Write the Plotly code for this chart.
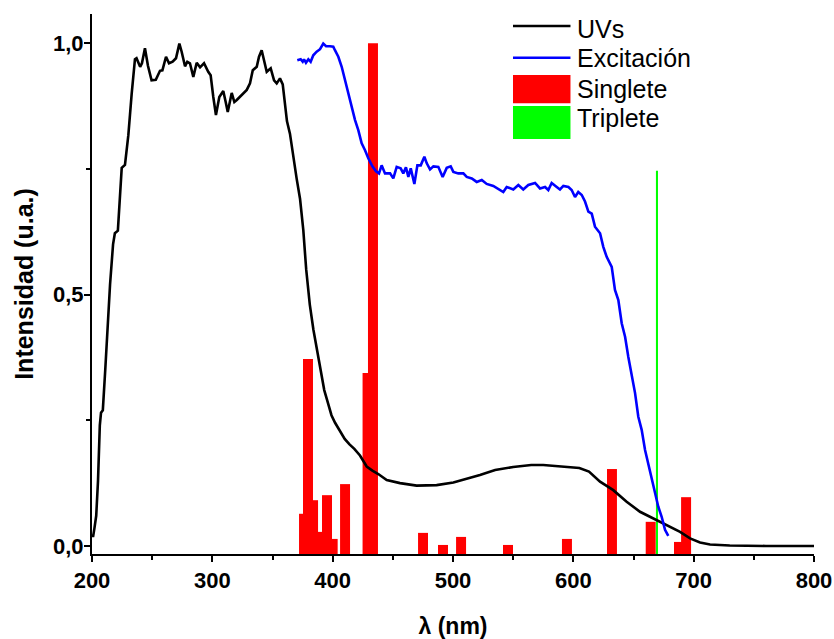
import plotly.graph_objects as go

# ---------------- data ----------------
uv_wl = [200, 201, 202, 203.5, 205, 206.5, 207.5, 209, 211, 213, 215, 217.5, 219, 221.5, 223,
         224.7, 227.4, 230.2, 233, 235.7, 237, 238.5, 240, 241.5, 244, 246.5, 249.5, 253, 256.5,
         258.5, 261.5, 264, 267, 269.8, 272.6, 274.5, 277.3, 279.2, 281.4, 284.2, 287, 289.8,
         293.1, 296.6, 298.6, 300.8, 303, 305.8, 309.1, 311.1, 312.8, 316.1, 318.3, 320.3, 324.4,
         328.6, 331.3, 333.6, 336.9, 338.8, 341, 342.9, 345.2, 348.5, 351.3, 353.5, 356.2, 358.5,
         360.4, 362, 364.5, 367.3, 370.1, 372.9, 375.6, 378, 381, 384, 387, 390, 393, 396, 399,
         402, 406, 410, 414, 418, 422.7, 428.3, 433, 437.9, 444.9, 456, 469.8, 486.4, 500.3,
         514.1, 522.4, 535, 550, 565, 575, 590, 605, 613, 622.2, 633.2, 644.3, 655.4, 666.5,
         677.6, 688.7, 697, 705.3, 713.6, 730, 760, 800]
uv_int = [0.02, 0.02, 0.035, 0.06, 0.13, 0.24, 0.265, 0.27, 0.35, 0.44, 0.52, 0.6, 0.622, 0.627, 0.68,
          0.752, 0.758, 0.817, 0.90, 0.968, 0.97, 0.96, 0.953, 0.96, 0.99, 0.955, 0.926, 0.927, 0.945,
          0.946, 0.973, 0.96, 0.963, 0.97, 0.999, 0.983, 0.954, 0.963, 0.96, 0.933, 0.961, 0.952,
          0.96, 0.943, 0.936, 0.893, 0.857, 0.893, 0.905, 0.883, 0.863, 0.901, 0.883, 0.887, 0.897,
          0.907, 0.92, 0.946, 0.953, 0.973, 0.986, 0.966, 0.943, 0.95, 0.926, 0.92, 0.93, 0.918,
          0.88, 0.845, 0.82, 0.77, 0.73, 0.69, 0.628, 0.55, 0.48, 0.43, 0.39, 0.35, 0.31, 0.285, 0.26,
          0.245, 0.228, 0.213, 0.202, 0.193, 0.18, 0.158, 0.15, 0.143, 0.131, 0.125, 0.12, 0.121, 0.126,
          0.135, 0.141, 0.151, 0.157, 0.161, 0.161, 0.158, 0.155, 0.148, 0.128, 0.111, 0.088, 0.068, 0.055,
          0.042, 0.028, 0.015, 0.007, 0.003, 0.001, 0.0, 0.0]

exc_wl = [370.6, 373.4, 375.1, 376.2, 377.8, 379.8, 381.7, 383.9, 386.7, 389.5, 392.2, 394.5, 397.8,
          400.5, 401.9, 404.7, 407.5, 410.3, 413, 415.8, 418.6, 421.3, 424.1, 426.9, 429.6, 433, 436,
          438.5, 440.7, 443.5, 447.7, 450.4, 453.2, 456.5, 458.7, 460.9, 462.9, 464.9, 467.9, 470.4,
          473.2, 476.2, 478.2, 480.9, 483.7, 487.8, 491.4, 494.8, 498.1, 500.3, 504.4, 508.6, 511.4,
          515.6, 519.7, 523.9, 528, 533.5, 539.1, 541.8, 544.6, 550.1, 554.3, 558.4, 562.6, 568.2,
          572.3, 576.5, 579.2, 582, 586.2, 588.9, 591.7, 595.9, 598.6, 601.4, 604.1, 607, 609.7,
          612.5, 615.3, 618, 622.2, 624.9, 627.7, 631.9, 634.6, 637.4, 640.2, 643, 645.7, 648.5,
          651.3, 654, 656.8, 659.6, 663.7, 667.9, 670.6, 673.4, 676.2, 678.9]
exc_int = [0.966, 0.968, 0.963, 0.968, 0.961, 0.968, 0.963, 0.976, 0.983, 0.988, 0.999, 0.994, 0.994,
           0.993, 0.986, 0.973, 0.953, 0.926, 0.90, 0.873, 0.847, 0.827, 0.801, 0.787, 0.771, 0.755, 0.745,
           0.741, 0.757, 0.741, 0.741, 0.731, 0.754, 0.751, 0.741, 0.753, 0.734, 0.751, 0.72, 0.757,
           0.757, 0.774, 0.761, 0.749, 0.755, 0.754, 0.734, 0.752, 0.755, 0.744, 0.741, 0.741, 0.734,
           0.731, 0.724, 0.728, 0.72, 0.716, 0.708, 0.704, 0.714, 0.709, 0.718, 0.709, 0.718, 0.722,
           0.711, 0.714, 0.708, 0.722, 0.714, 0.709, 0.716, 0.714, 0.708, 0.694, 0.704, 0.698, 0.685,
           0.665, 0.661, 0.635, 0.622, 0.595, 0.575, 0.555, 0.509, 0.489, 0.443, 0.416, 0.376, 0.343,
           0.304, 0.257, 0.231, 0.191, 0.151, 0.105, 0.078, 0.058, 0.032, 0.02]

singlet_wl = [376.2, 379.5, 383.7, 387.0, 395.3, 400.0, 410.3, 429.0, 433.5, 475.1, 491.7, 506.7,
              545.7, 594.7, 632.1, 664.3, 687.8, 693.7]
singlet_f = [0.064, 0.372, 0.091, 0.028, 0.101, 0.014, 0.123, 0.344, 1.0, 0.026, 0.002, 0.018,
             0.002, 0.014, 0.153, 0.048, 0.008, 0.097]

triplet_wl = [669.5]
triplet_f = [0.746]

x_ticks = [200, 300, 400, 500, 600, 700, 800]
y_ticks = [0.0, 0.5, 1.0]

series_names = ["UVs", "Excitación", "Singlete", "Triplete"]
series_colors = ["#000000", "#0000ff", "#ff0000", "#00ff00"]

X_RANGE = [200, 800]
Y_RANGE = [-0.016, 1.058]
BAR_W = 8.3
TRIP_W = 1.7

FONT = "Arial, Liberation Sans, sans-serif"

fig = go.Figure()
fig.add_trace(go.Scatter(x=uv_wl, y=uv_int, mode="lines", name=series_names[0],
                         line=dict(color=series_colors[0], width=2.6)))
fig.add_trace(go.Scatter(x=exc_wl, y=exc_int, mode="lines", name=series_names[1],
                         line=dict(color=series_colors[1], width=2.6)))
fig.add_trace(go.Bar(x=singlet_wl, y=[v - Y_RANGE[0] for v in singlet_f], base=Y_RANGE[0],
                     width=BAR_W, name=series_names[2],
                     marker=dict(color=series_colors[2], line=dict(width=0))))
fig.add_trace(go.Bar(x=triplet_wl, y=[v - Y_RANGE[0] for v in triplet_f], base=Y_RANGE[0],
                     width=TRIP_W, name=series_names[3],
                     marker=dict(color=series_colors[3], line=dict(width=0))))

# ---- custom legend (paper coordinates) ----
lg_x0, lg_x1, lg_tx = 0.5831, 0.6627, 0.6690
row_y = [0.9720, 0.9185, 0.8611, 0.8074]
line_y = [0.9778, 0.9191]
box_y = [(0.8346, 0.8870), (0.7685, 0.8296)]
shapes = []
for i in range(2):
    shapes.append(dict(type="line", xref="paper", yref="paper", x0=lg_x0, x1=lg_x1,
                       y0=line_y[i], y1=line_y[i], line=dict(color=series_colors[i], width=2.6)))
for i in range(2):
    shapes.append(dict(type="rect", xref="paper", yref="paper", x0=lg_x0, x1=lg_x1,
                       y0=box_y[i][0], y1=box_y[i][1], line=dict(width=0),
                       fillcolor=series_colors[2 + i]))
annotations = []
for i, name in enumerate(series_names):
    annotations.append(dict(text=name, xref="paper", yref="paper", x=lg_tx, y=row_y[i],
                            xanchor="left", yanchor="middle", showarrow=False,
                            font=dict(family=FONT, size=25, color="black")))

axis_common = dict(showline=True, linecolor="black", linewidth=2, ticks="outside",
                   tickcolor="black", tickwidth=2, ticklen=6, showgrid=False, zeroline=False,
                   mirror=False, automargin=False,
                   tickfont=dict(family=FONT, size=22, color="black", weight="bold"))

fig.update_layout(
    width=834, height=639,
    margin=dict(l=92, r=20, t=14, b=85),
    plot_bgcolor="white", paper_bgcolor="white",
    separators=",.",
    barmode="overlay",
    showlegend=False,
    shapes=shapes,
    annotations=annotations,
    xaxis=dict(range=X_RANGE, tickvals=x_ticks,
               minor=dict(ticks="outside", ticklen=4, tickwidth=2, tickcolor="black", dtick=50),
               title=dict(text="λ (nm)", font=dict(family=FONT, size=23, color="black", weight="bold"),
                          standoff=30),
               **axis_common),
    yaxis=dict(range=Y_RANGE, tickvals=y_ticks, tickformat=".1f", ticklabelstandoff=-4,
               minor=dict(ticks="outside", ticklen=4, tickwidth=2, tickcolor="black", dtick=0.25),
               title=dict(text="Intensidad (u.a.)", font=dict(family=FONT, size=25, color="black", weight="bold"),
                          standoff=12),
               **axis_common),
)

fig.write_html("out.html")
